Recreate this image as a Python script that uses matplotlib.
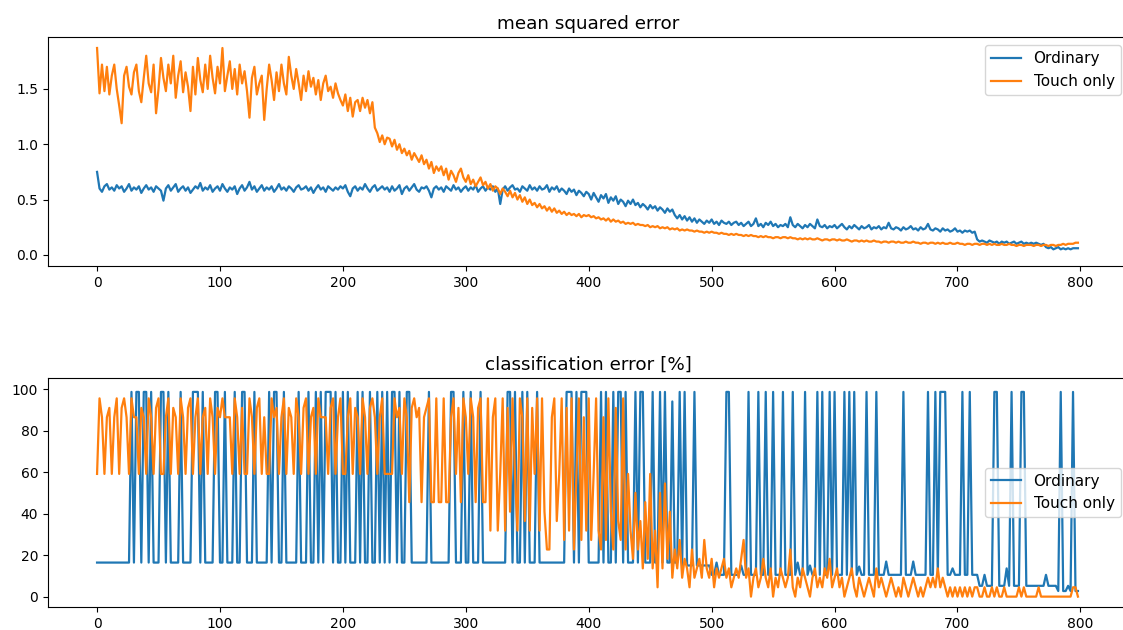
import numpy as np
import matplotlib
matplotlib.use("Agg")
import matplotlib.pyplot as plt

# values, one sample every STEP epochs
STEP = 2
labels = ["Ordinary", "Touch only"]

mse_ordinary = [
    0.75, 0.60, 0.57, 0.62, 0.64, 0.59, 0.61, 0.58, 0.63, 0.60, 0.62, 0.57, 0.60, 0.64, 0.58, 0.61, 0.59, 0.62, 0.56, 0.60,
    0.63, 0.59, 0.61, 0.57, 0.62, 0.60, 0.58, 0.49, 0.60, 0.63, 0.58, 0.61, 0.64, 0.57, 0.60, 0.62, 0.58, 0.61, 0.56, 0.59,
    0.62, 0.60, 0.65, 0.58, 0.61, 0.59, 0.63, 0.57, 0.60, 0.62, 0.58, 0.64, 0.60, 0.57, 0.61, 0.59, 0.62, 0.55, 0.60, 0.63,
    0.58, 0.61, 0.66, 0.59, 0.62, 0.57, 0.60, 0.63, 0.58, 0.61, 0.59, 0.62, 0.57, 0.60, 0.64, 0.59, 0.61, 0.58, 0.62, 0.60,
    0.57, 0.61, 0.63, 0.59, 0.60, 0.62, 0.58, 0.61, 0.56, 0.60, 0.63, 0.59, 0.61, 0.57, 0.62, 0.60, 0.58, 0.61, 0.59, 0.62,
    0.60, 0.63, 0.57, 0.53, 0.60, 0.62, 0.58, 0.61, 0.59, 0.64, 0.60, 0.57, 0.61, 0.63, 0.58, 0.60, 0.62, 0.59, 0.61, 0.57,
    0.62, 0.58, 0.60, 0.63, 0.55, 0.60, 0.62, 0.58, 0.61, 0.64, 0.59, 0.57, 0.61, 0.60, 0.62, 0.58, 0.52, 0.60, 0.62, 0.59,
    0.61, 0.57, 0.62, 0.60, 0.58, 0.63, 0.59, 0.61, 0.57, 0.60, 0.62, 0.58, 0.61, 0.59, 0.63, 0.57, 0.60, 0.62, 0.58, 0.61,
    0.59, 0.62, 0.57, 0.60, 0.46, 0.59, 0.62, 0.58, 0.61, 0.63, 0.59, 0.60, 0.57, 0.62, 0.60, 0.58, 0.63, 0.59, 0.61, 0.58,
    0.62, 0.59, 0.60, 0.63, 0.57, 0.61, 0.59, 0.62, 0.57, 0.60, 0.58, 0.55, 0.60, 0.57, 0.59, 0.54, 0.58, 0.56, 0.53, 0.57,
    0.55, 0.50, 0.56, 0.52, 0.48, 0.54, 0.51, 0.55, 0.47, 0.52, 0.49, 0.53, 0.46, 0.50, 0.48, 0.44, 0.49, 0.46, 0.50, 0.45,
    0.47, 0.43, 0.46, 0.44, 0.41, 0.45, 0.42, 0.44, 0.40, 0.43, 0.41, 0.38, 0.42, 0.39, 0.41, 0.36, 0.33, 0.36, 0.32, 0.35,
    0.31, 0.34, 0.30, 0.33, 0.29, 0.32, 0.30, 0.28, 0.31, 0.29, 0.32, 0.28, 0.30, 0.27, 0.31, 0.29, 0.28, 0.30, 0.27, 0.29,
    0.30, 0.27, 0.29, 0.26, 0.28, 0.30, 0.26, 0.28, 0.33, 0.26, 0.28, 0.25, 0.29, 0.27, 0.30, 0.26, 0.28, 0.25, 0.27, 0.26,
    0.28, 0.25, 0.34, 0.27, 0.25, 0.28, 0.26, 0.24, 0.27, 0.25, 0.28, 0.26, 0.24, 0.32, 0.26, 0.25, 0.27, 0.24, 0.26, 0.25,
    0.27, 0.24, 0.26, 0.28, 0.25, 0.23, 0.26, 0.24, 0.27, 0.25, 0.23, 0.26, 0.24, 0.25, 0.27, 0.23, 0.25, 0.24, 0.26, 0.23,
    0.25, 0.24, 0.29, 0.24, 0.23, 0.25, 0.24, 0.22, 0.25, 0.23, 0.24, 0.26, 0.23, 0.24, 0.22, 0.25, 0.23, 0.24, 0.28, 0.23,
    0.22, 0.24, 0.23, 0.21, 0.24, 0.22, 0.23, 0.21, 0.22, 0.24, 0.21, 0.22, 0.20, 0.22, 0.21, 0.22, 0.20, 0.21, 0.14, 0.12,
    0.13, 0.12, 0.11, 0.13, 0.12, 0.11, 0.12, 0.10, 0.12, 0.11, 0.12, 0.10, 0.11, 0.12, 0.10, 0.11, 0.12, 0.10, 0.11, 0.10,
    0.11, 0.10, 0.11, 0.10, 0.09, 0.10, 0.07, 0.06, 0.07, 0.05, 0.06, 0.07, 0.05, 0.06, 0.05, 0.06, 0.05, 0.06, 0.06, 0.06,
]

mse_touch = [
    1.87, 1.46, 1.72, 1.48, 1.70, 1.45, 1.62, 1.72, 1.50, 1.35, 1.19, 1.62, 1.70, 1.52, 1.45, 1.65, 1.72, 1.48, 1.38, 1.60,
    1.80, 1.55, 1.47, 1.72, 1.28, 1.50, 1.78, 1.60, 1.48, 1.72, 1.55, 1.80, 1.42, 1.62, 1.75, 1.47, 1.65, 1.52, 1.30, 1.70,
    1.45, 1.78, 1.58, 1.47, 1.72, 1.50, 1.80, 1.60, 1.46, 1.70, 1.55, 1.87, 1.48, 1.62, 1.75, 1.50, 1.68, 1.45, 1.72, 1.55,
    1.66, 1.48, 1.24, 1.60, 1.70, 1.45, 1.55, 1.62, 1.22, 1.50, 1.72, 1.58, 1.40, 1.65, 1.48, 1.72, 1.55, 1.45, 1.79, 1.62,
    1.50, 1.68, 1.55, 1.40, 1.62, 1.48, 1.66, 1.52, 1.60, 1.45, 1.58, 1.40, 1.55, 1.62, 1.48, 1.52, 1.42, 1.55, 1.46, 1.40,
    1.35, 1.45, 1.30, 1.42, 1.25, 1.38, 1.40, 1.30, 1.42, 1.33, 1.40, 1.28, 1.38, 1.15, 1.10, 1.02, 1.08, 1.00, 1.06, 1.05,
    0.98, 1.04, 0.95, 1.00, 0.92, 0.96, 0.90, 0.94, 0.86, 0.92, 0.88, 0.84, 0.90, 0.82, 0.86, 0.78, 0.84, 0.74, 0.80, 0.76,
    0.80, 0.72, 0.78, 0.68, 0.76, 0.72, 0.66, 0.74, 0.78, 0.70, 0.66, 0.72, 0.64, 0.68, 0.62, 0.66, 0.70, 0.63, 0.66, 0.60,
    0.64, 0.58, 0.62, 0.60, 0.55, 0.60, 0.57, 0.53, 0.58, 0.52, 0.56, 0.50, 0.54, 0.48, 0.52, 0.46, 0.50, 0.45, 0.47, 0.43,
    0.46, 0.42, 0.44, 0.40, 0.43, 0.39, 0.42, 0.38, 0.40, 0.37, 0.39, 0.36, 0.38, 0.36, 0.37, 0.35, 0.37, 0.34, 0.36, 0.35,
    0.36, 0.34, 0.35, 0.33, 0.34, 0.32, 0.33, 0.31, 0.33, 0.30, 0.32, 0.30, 0.31, 0.29, 0.30, 0.28, 0.29, 0.28, 0.29, 0.27,
    0.28, 0.27, 0.27, 0.26, 0.27, 0.25, 0.26, 0.25, 0.26, 0.24, 0.25, 0.24, 0.25, 0.23, 0.24, 0.23, 0.24, 0.22, 0.23, 0.22,
    0.23, 0.22, 0.22, 0.21, 0.22, 0.21, 0.21, 0.20, 0.21, 0.20, 0.21, 0.20, 0.20, 0.19, 0.20, 0.19, 0.19, 0.18, 0.19, 0.18,
    0.19, 0.18, 0.18, 0.17, 0.18, 0.17, 0.18, 0.17, 0.17, 0.16, 0.17, 0.16, 0.17, 0.16, 0.16, 0.15, 0.16, 0.16, 0.15, 0.16,
    0.16, 0.15, 0.16, 0.15, 0.15, 0.14, 0.15, 0.14, 0.15, 0.14, 0.15, 0.14, 0.14, 0.15, 0.14, 0.13, 0.14, 0.14, 0.13, 0.14,
    0.14, 0.13, 0.14, 0.13, 0.13, 0.14, 0.13, 0.12, 0.13, 0.13, 0.12, 0.13, 0.12, 0.13, 0.12, 0.12, 0.13, 0.12, 0.12, 0.11,
    0.12, 0.12, 0.11, 0.12, 0.12, 0.11, 0.12, 0.11, 0.11, 0.12, 0.11, 0.11, 0.12, 0.11, 0.11, 0.10, 0.11, 0.11, 0.10, 0.11,
    0.11, 0.10, 0.11, 0.10, 0.11, 0.10, 0.10, 0.11, 0.10, 0.10, 0.11, 0.10, 0.10, 0.09, 0.10, 0.10, 0.09, 0.10, 0.10, 0.09,
    0.10, 0.10, 0.09, 0.10, 0.09, 0.10, 0.09, 0.09, 0.10, 0.09, 0.09, 0.10, 0.09, 0.09, 0.08, 0.09, 0.09, 0.08, 0.09, 0.09,
    0.09, 0.08, 0.09, 0.09, 0.08, 0.09, 0.09, 0.08, 0.09, 0.09, 0.08, 0.09, 0.09, 0.10, 0.09, 0.10, 0.10, 0.10, 0.11, 0.11,
]

cls_ordinary = [
    16.4, 16.4, 16.4, 16.4, 16.4, 16.4, 16.4, 16.4, 16.4, 16.4, 16.4, 16.4, 16.4, 16.4, 98.6, 16.4, 98.6, 98.6, 16.4, 98.6,
    98.6, 16.4, 98.6, 16.4, 16.4, 16.4, 98.6, 98.6, 16.4, 98.6, 16.4, 16.4, 16.4, 16.4, 98.6, 16.4, 16.4, 16.4, 16.4, 98.6,
    98.6, 98.6, 16.4, 98.6, 16.4, 16.4, 16.4, 16.4, 98.6, 98.6, 16.4, 16.4, 98.6, 16.4, 16.4, 16.4, 98.6, 16.4, 16.4, 98.6,
    98.6, 16.4, 16.4, 16.4, 98.6, 16.4, 16.4, 16.4, 16.4, 16.4, 98.6, 16.4, 98.6, 98.6, 16.4, 16.4, 98.6, 16.4, 16.4, 16.4,
    16.4, 16.4, 98.6, 16.4, 16.4, 16.4, 98.6, 16.4, 16.4, 98.6, 16.4, 98.6, 16.4, 98.6, 98.6, 98.6, 16.4, 98.6, 16.4, 16.4,
    98.6, 16.4, 98.6, 16.4, 16.4, 16.4, 98.6, 16.4, 98.6, 16.4, 16.4, 98.6, 16.4, 16.4, 98.6, 16.4, 98.6, 16.4, 98.6, 16.4,
    98.6, 98.6, 16.4, 98.6, 16.4, 16.4, 98.6, 98.6, 16.4, 16.4, 16.4, 16.4, 16.4, 16.4, 16.4, 98.6, 16.4, 16.4, 16.4, 16.4,
    16.4, 16.4, 16.4, 16.4, 98.6, 98.6, 16.4, 16.4, 16.4, 98.6, 16.4, 16.4, 98.6, 16.4, 16.4, 16.4, 98.6, 16.4, 16.4, 16.4,
    16.4, 16.4, 16.4, 16.4, 16.4, 16.4, 16.4, 98.6, 98.6, 16.4, 98.6, 16.4, 16.4, 98.6, 16.4, 98.6, 16.4, 16.4, 16.4, 98.6,
    16.4, 16.4, 16.4, 16.4, 16.4, 16.4, 16.4, 16.4, 16.4, 16.4, 16.4, 98.6, 98.6, 98.6, 16.4, 98.6, 16.4, 98.6, 98.6, 98.6,
    16.4, 16.4, 16.4, 16.4, 16.4, 98.6, 16.4, 98.6, 16.4, 16.4, 98.6, 16.4, 98.6, 98.6, 16.4, 98.6, 16.4, 16.4, 16.4, 98.6,
    16.4, 98.6, 98.6, 16.4, 16.4, 16.4, 98.6, 16.4, 16.4, 98.6, 16.4, 98.6, 16.4, 16.4, 94.0, 16.4, 16.4, 98.6, 15.0, 98.6,
    15.0, 15.0, 15.0, 98.6, 15.0, 15.0, 15.0, 15.0, 15.0, 15.0, 10.5, 10.5, 16.4, 10.5, 10.5, 10.5, 98.6, 98.6, 10.5, 10.5,
    10.5, 10.5, 15.0, 10.5, 10.5, 98.6, 10.5, 10.5, 10.5, 98.6, 10.5, 10.5, 98.6, 10.5, 10.5, 98.6, 10.5, 10.5, 10.5, 98.6,
    10.5, 10.5, 10.5, 98.6, 10.5, 16.4, 10.5, 10.5, 98.6, 10.5, 15.0, 10.5, 10.5, 98.6, 10.5, 98.6, 10.5, 10.5, 98.6, 10.5,
    98.6, 10.5, 10.5, 10.5, 98.6, 10.5, 98.6, 10.5, 98.6, 10.5, 14.5, 10.5, 10.5, 98.6, 10.5, 10.5, 10.5, 98.6, 10.5, 10.5,
    10.5, 16.9, 10.5, 10.5, 10.5, 10.5, 10.5, 10.5, 98.6, 10.5, 10.5, 10.5, 16.9, 10.5, 10.5, 10.5, 10.5, 10.5, 98.6, 10.5,
    10.5, 98.6, 10.5, 98.6, 98.6, 98.6, 10.5, 10.5, 13.6, 10.5, 10.5, 10.5, 98.6, 10.5, 10.5, 98.6, 10.5, 10.5, 10.5, 5.2,
    5.2, 10.5, 5.2, 5.2, 5.2, 98.6, 98.6, 5.2, 5.2, 5.2, 13.6, 5.2, 98.6, 5.2, 5.2, 5.2, 98.6, 98.6, 5.2, 5.2,
    5.2, 5.2, 5.2, 5.2, 5.2, 5.2, 10.5, 5.2, 5.2, 5.2, 5.2, 2.7, 98.6, 2.7, 2.7, 5.2, 2.7, 98.6, 2.7, 2.7,
]

cls_touch = [
    59.1, 95.5, 86.4, 59.1, 86.4, 90.9, 59.1, 86.4, 95.5, 59.1, 90.9, 95.5, 86.4, 59.1, 95.5, 86.4, 86.4, 59.1, 90.9, 86.4,
    59.1, 95.5, 86.4, 59.1, 90.9, 95.5, 59.1, 59.1, 86.4, 95.5, 59.1, 90.9, 86.4, 59.1, 95.5, 86.4, 59.1, 90.9, 95.5, 59.1,
    86.4, 95.5, 59.1, 86.4, 90.9, 59.1, 95.5, 86.4, 59.1, 90.9, 86.4, 95.5, 86.4, 86.4, 86.4, 59.1, 95.5, 86.4, 59.1, 90.9,
    59.1, 59.1, 95.5, 86.4, 59.1, 90.9, 95.5, 59.1, 86.4, 59.1, 59.1, 95.5, 86.4, 90.9, 59.1, 86.4, 95.5, 59.1, 90.9, 86.4,
    59.1, 95.5, 86.4, 59.1, 90.9, 95.5, 59.1, 86.4, 90.9, 59.1, 95.5, 86.4, 86.4, 86.4, 59.1, 90.9, 95.5, 59.1, 86.4, 95.5,
    59.1, 59.1, 86.4, 95.5, 59.1, 90.9, 86.4, 59.1, 95.5, 86.4, 59.1, 90.9, 95.5, 86.4, 59.1, 86.4, 95.5, 59.1, 59.1, 59.1,
    59.1, 95.5, 86.4, 90.9, 59.1, 95.5, 86.4, 45.5, 90.9, 95.5, 86.4, 90.9, 45.5, 86.4, 90.9, 95.5, 45.5, 45.5, 95.5, 45.5,
    45.5, 95.5, 45.5, 45.5, 86.4, 95.5, 59.1, 90.9, 45.5, 95.5, 86.4, 59.1, 95.5, 86.4, 45.5, 90.9, 95.5, 45.5, 45.5, 95.5,
    31.8, 86.4, 95.5, 31.8, 59.1, 95.5, 31.8, 90.9, 40.9, 95.5, 59.1, 31.8, 95.5, 86.4, 36.4, 95.5, 31.8, 90.9, 59.1, 95.5,
    31.8, 95.5, 40.9, 22.7, 22.7, 86.4, 95.5, 36.4, 59.1, 95.5, 27.3, 90.9, 31.8, 95.5, 22.7, 59.1, 95.5, 27.3, 86.4, 31.8,
    95.5, 27.3, 59.1, 95.5, 31.8, 22.7, 86.4, 27.3, 95.5, 40.9, 22.7, 90.9, 36.4, 27.3, 95.5, 22.7, 59.1, 31.8, 18.2, 50.0,
    22.7, 36.4, 13.6, 45.5, 18.2, 59.1, 13.6, 31.8, 4.5, 50.0, 13.6, 54.5, 18.2, 40.9, 9.1, 22.7, 13.6, 27.3, 9.1, 18.2,
    13.6, 4.5, 22.7, 9.1, 13.6, 18.2, 9.1, 27.3, 13.6, 9.1, 18.2, 4.5, 13.6, 9.1, 13.6, 18.2, 9.1, 13.6, 4.5, 9.1,
    13.6, 9.1, 18.2, 27.3, 9.1, 13.6, 0.0, 9.1, 13.6, 4.5, 9.1, 18.2, 9.1, 4.5, 13.6, 0.0, 9.1, 4.5, 13.6, 9.1,
    4.5, 9.1, 22.7, 4.5, 0.0, 9.1, 4.5, 13.6, 9.1, 4.5, 0.0, 9.1, 13.6, 4.5, 9.1, 4.5, 13.6, 9.1, 18.2, 4.5,
    9.1, 13.6, 4.5, 9.1, 0.0, 4.5, 9.1, 13.6, 4.5, 0.0, 9.1, 4.5, 0.0, 4.5, 9.1, 4.5, 0.0, 13.6, 4.5, 9.1,
    4.5, 0.0, 4.5, 9.1, 4.5, 0.0, 4.5, 0.0, 9.1, 4.5, 0.0, 4.5, 9.1, 4.5, 0.0, 4.5, 0.0, 4.5, 9.1, 4.5,
    9.1, 4.5, 13.6, 4.5, 9.1, 4.5, 0.0, 4.5, 0.0, 4.5, 0.0, 4.5, 0.0, 4.5, 0.0, 4.5, 0.0, 4.5, 4.5, 0.0,
    0.0, 4.5, 0.0, 0.0, 4.5, 0.0, 4.5, 0.0, 0.0, 4.5, 0.0, 0.0, 0.0, 0.0, 0.0, 4.5, 0.0, 4.5, 0.0, 0.0,
    0.0, 0.0, 0.0, 4.5, 0.0, 0.0, 0.0, 0.0, 0.0, 0.0, 0.0, 0.0, 0.0, 0.0, 0.0, 0.0, 0.0, 4.5, 4.5, 0.0,
]


def epochs(values):
    return np.arange(len(values)) * STEP


# legend and titles in the reference are a little larger than the default
plt.rcParams["font.size"] = 11
plt.rcParams["xtick.labelsize"] = 10
plt.rcParams["ytick.labelsize"] = 10
plt.rcParams["lines.linewidth"] = 1.6

fig = plt.figure(figsize=(11.23, 6.3), dpi=100)
# the source image was cropped on the right, so the axes run past the edge
ax1 = fig.add_axes([0.0427, 0.577, 0.962, 0.3635])
ax2 = fig.add_axes([0.0427, 0.0365, 0.962, 0.3635])

ax1.plot(epochs(mse_ordinary), mse_ordinary, label=labels[0])
ax1.plot(epochs(mse_touch), mse_touch, label=labels[1])
ax1.set_title("mean squared error")
ax1.set_xlim(-39.95, 838.95)
ax1.set_ylim(-0.105, 1.965)
ax1.set_yticks([0.0, 0.5, 1.0, 1.5])
ax1.legend(loc="upper right")

ax2.plot(epochs(cls_ordinary), cls_ordinary, label=labels[0])
ax2.plot(epochs(cls_touch), cls_touch, label=labels[1])
ax2.set_title("classification error [%]")
ax2.set_xlim(-39.95, 838.95)
ax2.set_ylim(-5.0, 105.3)
ax2.legend(loc="center right")

fig.savefig("out.png", dpi=100)
